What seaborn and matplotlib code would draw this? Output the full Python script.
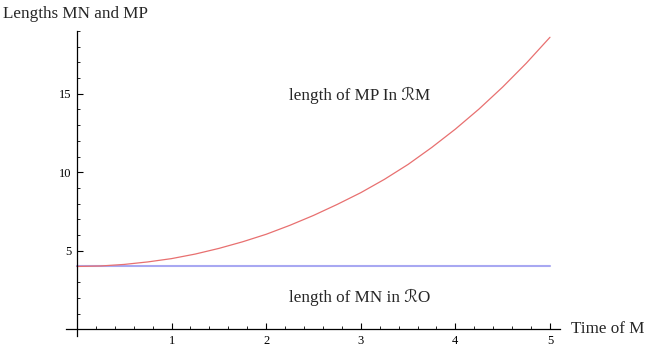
import numpy as np
import pandas as pd
import matplotlib
matplotlib.use("Agg")
import matplotlib.pyplot as plt
from matplotlib.ticker import MultipleLocator
import seaborn as sns

# values
t = [0.0, 0.25, 0.5, 0.75, 1.0, 1.25, 1.5, 1.75, 2.0, 2.25, 2.5,
     2.75, 3.0, 3.25, 3.5, 3.75, 4.0, 4.25, 4.5, 4.75, 5.0]
mp_len = [4.00, 4.03, 4.13, 4.29, 4.50, 4.79, 5.15, 5.57, 6.05, 6.62, 7.25,
          7.95, 8.70, 9.55, 10.50, 11.58, 12.75, 14.03, 15.43, 16.95, 18.60]
mn_len = [4.0] * len(t)

x_ticks = [1, 2, 3, 4, 5]
y_ticks = [5, 10, 15]

df = pd.DataFrame({'t': t, 'MP': mp_len, 'MN': mn_len})

sns.set_style('white')
plt.rcParams['font.family'] = ['Liberation Serif', 'DejaVu Sans']

fig = plt.figure(figsize=(6.56, 3.61), dpi=100)
ax = fig.add_axes([66 / 656, 25 / 361, 494 / 656, 305 / 361])

sns.lineplot(data=df, x='t', y='MN', ax=ax, color='#a8a8f2', linewidth=1.5)
sns.lineplot(data=df, x='t', y='MP', ax=ax, color='#e87070', linewidth=0.9)

ax.set_xlim(-0.116, 5.106)
ax.set_ylim(-0.43, 19.0)

for side in ['top', 'right']:
    ax.spines[side].set_visible(False)
for side in ['left', 'bottom']:
    ax.spines[side].set_color('black')
    ax.spines[side].set_linewidth(0.9)
ax.spines['left'].set_position(('data', 0))
ax.spines['bottom'].set_position(('data', 0))

ax.set_xticks(x_ticks)
ax.set_yticks(y_ticks)
ax.xaxis.set_minor_locator(MultipleLocator(0.2))
ax.yaxis.set_minor_locator(MultipleLocator(1))
ax.tick_params(which='major', direction='in', length=4, width=0.8,
               labelsize=9, colors='black', pad=4)
ax.tick_params(which='minor', direction='in', length=2.5, width=0.6,
               colors='black')
ax.tick_params(axis='x', bottom=True, which='both')
ax.tick_params(axis='y', left=True, which='both')
ax.set_xlabel('')
ax.set_ylabel('')

ax.text(2.99, 14.9, 'length of MP In ℛM', fontsize=12.3, ha='center', va='center')
ax.text(2.99, 2.05, 'length of MN in ℛO', fontsize=12.3, ha='center', va='center')

fig.text(3 / 656, 1 - 18 / 361, 'Lengths MN and MP', fontsize=12.3, ha='left', va='baseline')
fig.text(571 / 656, 1 - 333 / 361, 'Time of M', fontsize=12.3, ha='left', va='baseline')

fig.savefig('out.png', dpi=100)
